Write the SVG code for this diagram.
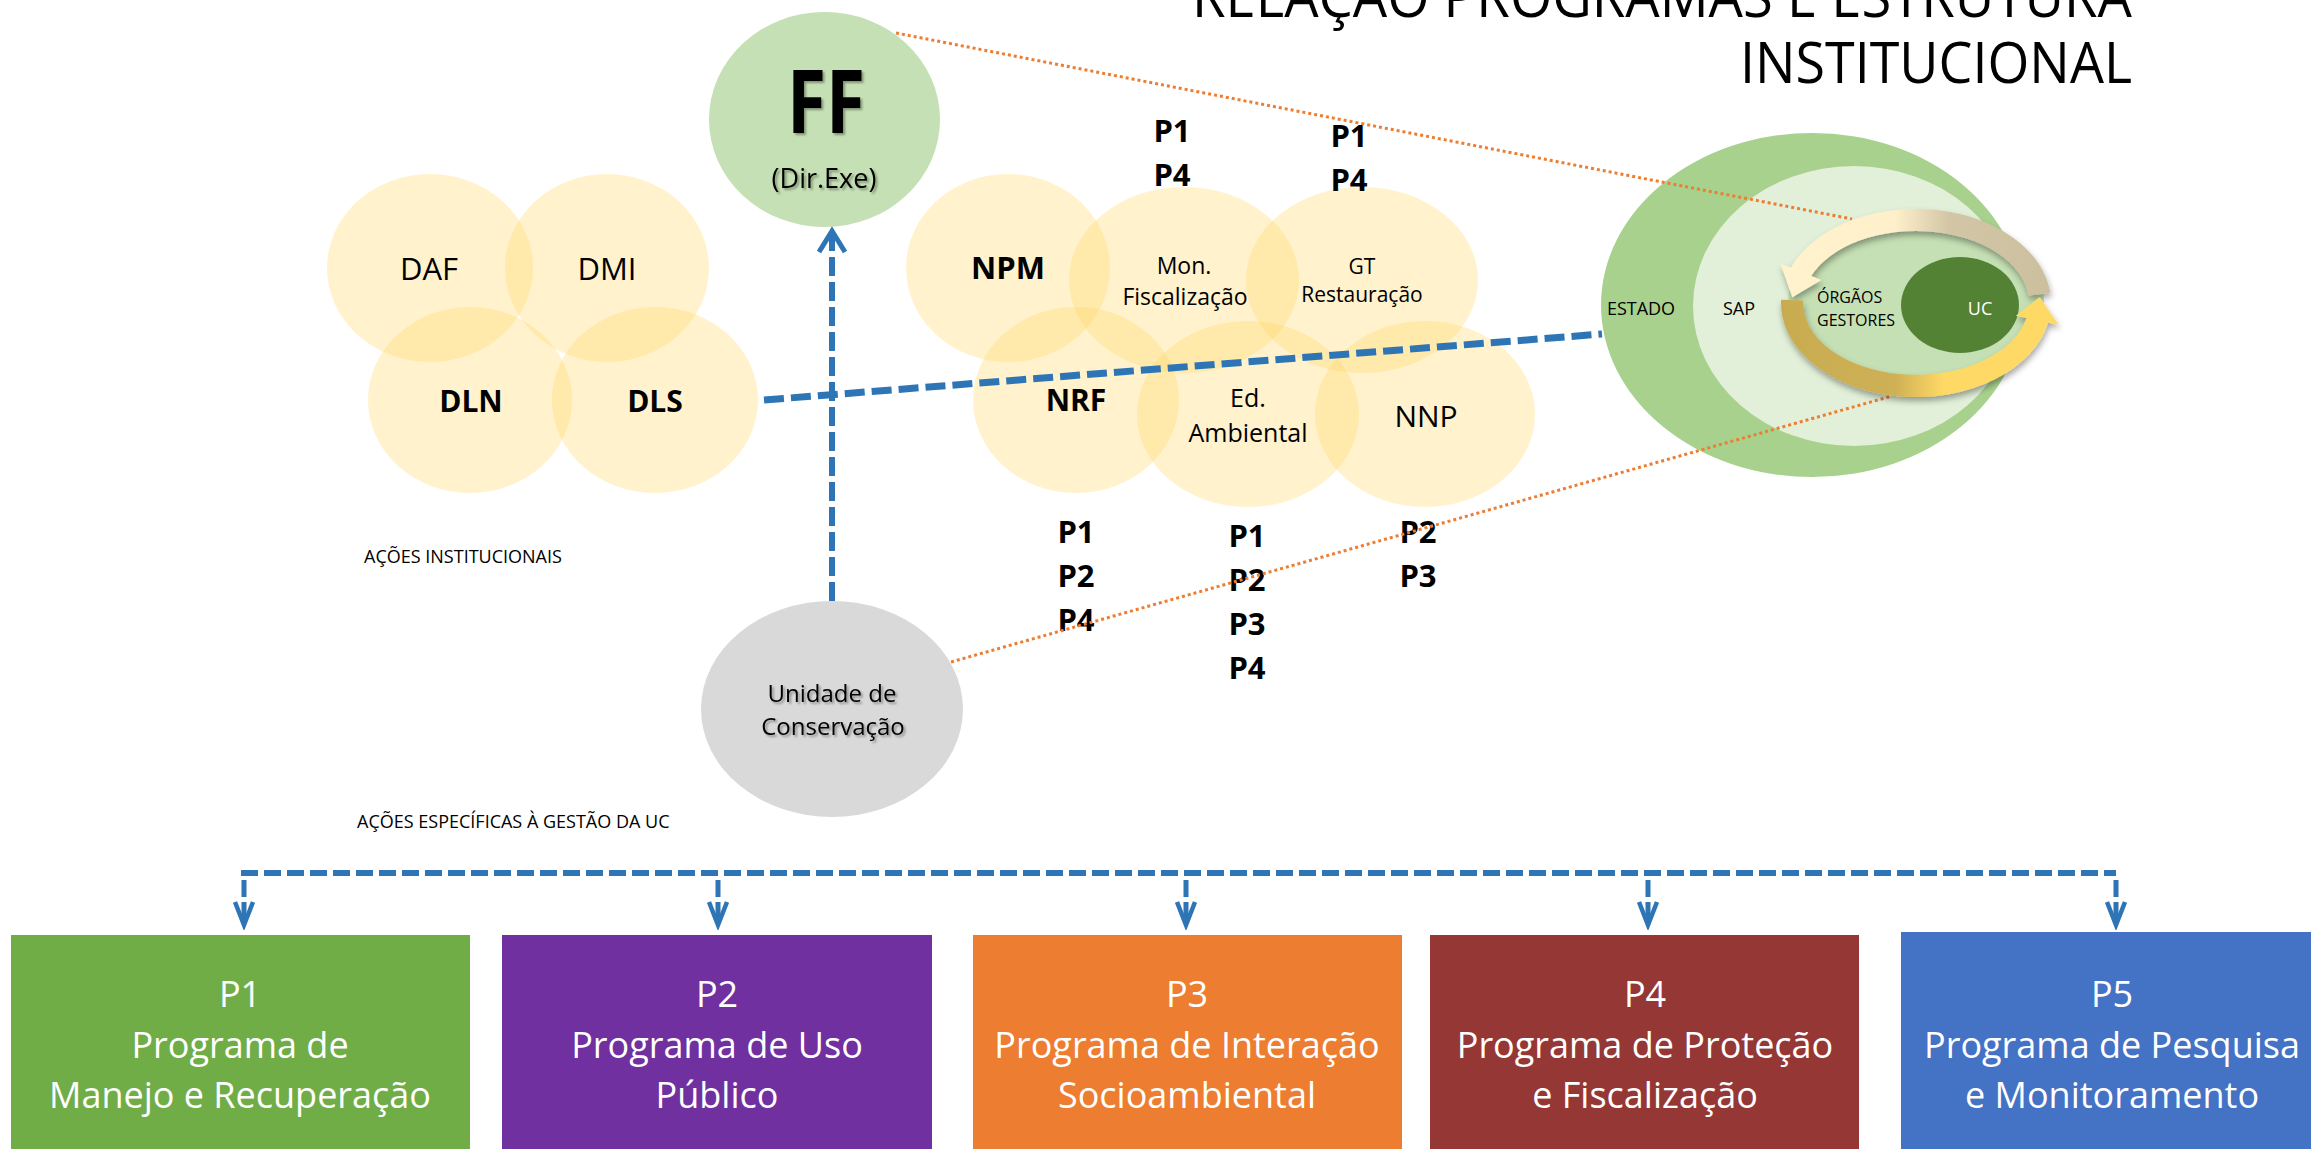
<svg xmlns="http://www.w3.org/2000/svg" width="2311" height="1149" viewBox="0 0 2311 1149">
<style>
text{font-family:"Open Sans","Noto Sans","Liberation Sans",sans-serif;fill:#000}
.c{text-anchor:middle}
.b{font-weight:bold}
.yc{fill:#FFD966;fill-opacity:0.33}
.bx text{fill:#fff;font-size:36px;text-anchor:middle}
.blue{fill:none;stroke:#2E75B6}
.org{fill:none;stroke:#ED7D31;stroke-width:3;stroke-dasharray:3 3}
</style>
<defs>
<filter id="tsh" x="-20%" y="-20%" width="140%" height="140%"><feDropShadow dx="2" dy="2" stdDeviation="1.2" flood-color="#000" flood-opacity="0.35"/></filter>
<filter id="ash" x="-10%" y="-10%" width="120%" height="130%"><feDropShadow dx="1" dy="4" stdDeviation="3" flood-color="#000" flood-opacity="0.35"/></filter>
<linearGradient id="gUp" gradientUnits="userSpaceOnUse" x1="1780" y1="0" x2="2053" y2="0"><stop offset="0" stop-color="#FFF2CC"/><stop offset="0.42" stop-color="#FFF0CB"/><stop offset="0.62" stop-color="#D2C6A6"/><stop offset="1" stop-color="#CBBF9E"/></linearGradient>
<linearGradient id="gLo" gradientUnits="userSpaceOnUse" x1="1780" y1="0" x2="2053" y2="0"><stop offset="0" stop-color="#C9AB50"/><stop offset="0.42" stop-color="#CEB055"/><stop offset="0.6" stop-color="#FFD966"/><stop offset="1" stop-color="#FFD966"/></linearGradient>
<marker id="arrUp" markerUnits="userSpaceOnUse" viewBox="-4 -16 30 32" markerWidth="30" markerHeight="32" refX="20" refY="0" orient="auto"><path d="M0,-13 L21,0 L0,13" fill="none" stroke="#2E75B6" stroke-width="5"/></marker>
<marker id="arrDn" markerUnits="userSpaceOnUse" viewBox="-4 -12 32 24" markerWidth="32" markerHeight="24" refX="22" refY="0" orient="auto"><path d="M0,-9 L23,0 L0,9" fill="none" stroke="#2E75B6" stroke-width="4.5"/></marker>
</defs>
<rect width="2311" height="1149" fill="#fff"/>

<g id="title">
<text font-size="57"><tspan x="1192" y="17" textLength="940" lengthAdjust="spacingAndGlyphs">RELAÇÃO PROGRAMAS E ESTRUTURA</tspan><tspan x="1740" y="83" textLength="392" lengthAdjust="spacingAndGlyphs">INSTITUCIONAL</tspan></text>
</g>

<g id="diretorias">
<ellipse class="yc" cx="430" cy="268" rx="103" ry="94"/>
<ellipse class="yc" cx="607" cy="268" rx="102" ry="94"/>
<ellipse class="yc" cx="470" cy="400" rx="102" ry="93"/>
<ellipse class="yc" cx="655" cy="400" rx="103" ry="93"/>
</g>
<g id="node-DAF"><text class="c" x="429" y="280" font-size="31">DAF</text></g>
<g id="node-DMI"><text class="c" x="607" y="280" font-size="31">DMI</text></g>
<g id="node-DLN"><text class="c b" x="471" y="412" font-size="30">DLN</text></g>
<g id="node-DLS"><text class="c b" x="655" y="412" font-size="30">DLS</text></g>

<g id="nucleos">
<ellipse class="yc" cx="1008" cy="268" rx="102" ry="94"/>
<ellipse class="yc" cx="1184" cy="280" rx="115" ry="93"/>
<ellipse class="yc" cx="1362" cy="280" rx="116" ry="93"/>
<ellipse class="yc" cx="1076" cy="400" rx="103" ry="93"/>
<ellipse class="yc" cx="1248" cy="414" rx="111" ry="93"/>
<ellipse class="yc" cx="1425" cy="414" rx="110" ry="93"/>
</g>
<g id="node-NPM"><text class="c b" x="1008" y="279" font-size="31">NPM</text></g>
<g id="node-MonFisc"><text class="c" x="1184" y="274" font-size="23">Mon.</text><text class="c" x="1185" y="305" font-size="23">Fiscalização</text></g>
<g id="node-GT"><text class="c" x="1362" y="274" font-size="21">GT</text><text class="c" x="1362" y="302" font-size="21">Restauração</text></g>
<g id="node-NRF"><text class="c b" x="1076" y="411" font-size="30">NRF</text></g>
<g id="node-EdAmb"><text class="c" x="1248" y="407" font-size="25">Ed.</text><text class="c" x="1248" y="442" font-size="25">Ambiental</text></g>
<g id="node-NNP"><text class="c" x="1426" y="427" font-size="30">NNP</text></g>

<g id="p-labels" font-size="31">
<text class="c b" x="1172" y="142">P1</text><text class="c b" x="1172" y="186">P4</text>
<text class="c b" x="1349" y="147">P1</text><text class="c b" x="1349" y="191">P4</text>
<text class="c b" x="1076" y="543">P1</text><text class="c b" x="1076" y="587">P2</text><text class="c b" x="1076" y="631">P4</text>
<text class="c b" x="1247" y="547">P1</text><text class="c b" x="1247" y="591">P2</text><text class="c b" x="1247" y="635">P3</text><text class="c b" x="1247" y="679">P4</text>
<text class="c b" x="1418" y="543">P2</text><text class="c b" x="1418" y="587">P3</text>
</g>

<g id="node-FF">
<ellipse cx="824.5" cy="119.5" rx="115.5" ry="107.5" fill="#C5E0B4"/>
<text class="c b" x="826" y="133" font-size="88" textLength="78" lengthAdjust="spacingAndGlyphs" filter="url(#tsh)">FF</text>
<text class="c" x="824" y="188" font-size="27" filter="url(#tsh)">(Dir.Exe)</text>
</g>

<g id="node-UC-unidade">
<ellipse cx="832" cy="709" rx="131" ry="108" fill="#D9D9D9"/>
<text class="c" x="832" y="702" font-size="24" filter="url(#tsh)">Unidade de</text>
<text class="c" x="833" y="735" font-size="24" filter="url(#tsh)">Conservação</text>
</g>

<g id="labels">
<text x="364" y="563" font-size="18">AÇÕES INSTITUCIONAIS</text>
<text x="357" y="828" font-size="18">AÇÕES ESPECÍFICAS À GESTÃO DA UC</text>
</g>

<g id="node-estrutura">
<ellipse cx="1812" cy="305" rx="211" ry="172" fill="#A9D18E"/>
<ellipse cx="1854" cy="306" rx="161" ry="140" fill="#E2F0D9"/>
<ellipse cx="1916" cy="303" rx="128" ry="88" fill="#C5E0B4"/>
<ellipse cx="1960" cy="305" rx="59" ry="48" fill="#548235"/>
<text class="c" x="1641" y="315" font-size="18">ESTADO</text>
<text class="c" x="1739" y="315" font-size="18">SAP</text>
<text x="1817" y="303" font-size="16">ÓRGÃOS</text>
<text x="1817" y="326" font-size="16">GESTORES</text>
<text class="c" x="1980" y="315" font-size="18" style="fill:#fff">UC</text>
</g>

<g id="connectors">
<path class="blue" d="M764,400 L1602,334" stroke-width="7" stroke-dasharray="20 7"/>
<path class="blue" d="M832,601 L832,232" stroke-width="6" stroke-dasharray="19 6" marker-end="url(#arrUp)"/>
<path class="blue" d="M241,873 L2116,873" stroke-width="6" stroke-dasharray="17 6"/>
<path class="blue" d="M244,880 L244,924" stroke-width="5" stroke-dasharray="17 5" marker-end="url(#arrDn)"/>
<path class="blue" d="M718,880 L718,924" stroke-width="5" stroke-dasharray="17 5" marker-end="url(#arrDn)"/>
<path class="blue" d="M1186,880 L1186,924" stroke-width="5" stroke-dasharray="17 5" marker-end="url(#arrDn)"/>
<path class="blue" d="M1648,880 L1648,924" stroke-width="5" stroke-dasharray="17 5" marker-end="url(#arrDn)"/>
<path class="blue" d="M2116,880 L2116,924" stroke-width="5" stroke-dasharray="17 5" marker-end="url(#arrDn)"/>
<path class="org" d="M896,33 L1852,219"/>
<path class="org" d="M951,662 L1892,396"/>
</g>

<g id="ciclo" filter="url(#ash)">
<path fill="url(#gUp)" d="M2050.3,293.2 A135,94 0 0 0 1790.8,267.8 L1780.6,263.7 L1792.3,297.2 L1821.4,280.1 L1811.2,276 A113,72 0 0 1 2028.4,295.5 Z"/>
<path fill="url(#gLo)" d="M1781.1,299.7 A135,94 0 0 0 2048.1,322.5 L2058.8,324.8 L2039.7,297.2 L2015.8,315.7 L2026.5,318 A113,72 0 0 1 1803.1,300.5 Z"/>
</g>

<g id="node-P1" class="bx"><rect x="11" y="935" width="459" height="214" fill="#70AD47"/><text x="240" y="1007">P1</text><text x="240" y="1058">Programa de</text><text x="240" y="1108">Manejo e Recuperação</text></g>
<g id="node-P2" class="bx"><rect x="502" y="935" width="430" height="214" fill="#7030A0"/><text x="717" y="1007">P2</text><text x="717" y="1058">Programa de Uso</text><text x="717" y="1108">Público</text></g>
<g id="node-P3" class="bx"><rect x="973" y="935" width="429" height="214" fill="#ED7D31"/><text x="1187" y="1007">P3</text><text x="1187" y="1058">Programa de Interação</text><text x="1187" y="1108">Socioambiental</text></g>
<g id="node-P4" class="bx"><rect x="1430" y="935" width="429" height="214" fill="#953735"/><text x="1645" y="1007">P4</text><text x="1645" y="1058">Programa de Proteção</text><text x="1645" y="1108">e Fiscalização</text></g>
<g id="node-P5" class="bx"><rect x="1901" y="932" width="410" height="217" fill="#4472C4"/><text x="2112" y="1007">P5</text><text x="2112" y="1058">Programa de Pesquisa</text><text x="2112" y="1108">e Monitoramento</text></g>
</svg>
